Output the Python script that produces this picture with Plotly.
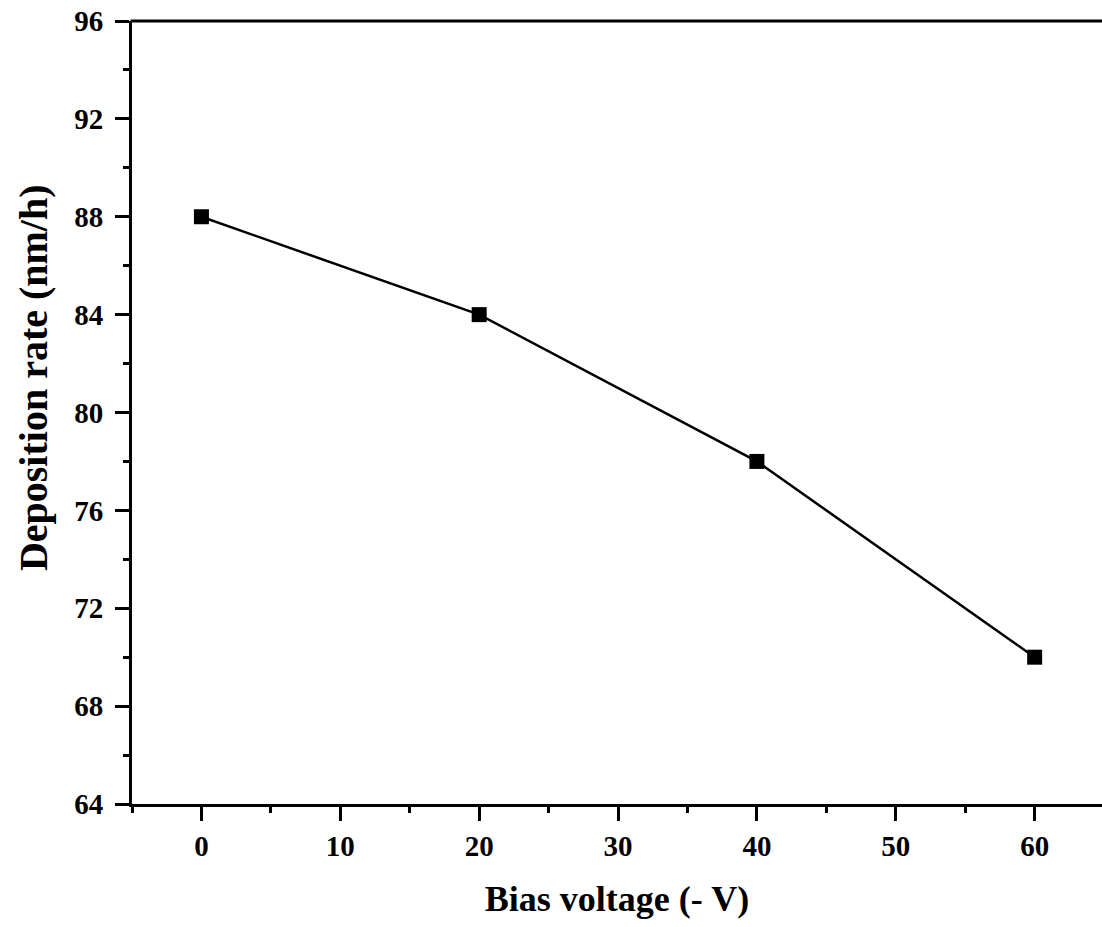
import plotly.graph_objects as go

bias_voltage = [0, 20, 40, 60]
deposition_rate = [88, 84, 78, 70]
x_ticks = [0, 10, 20, 30, 40, 50, 60]
y_ticks = [64, 68, 72, 76, 80, 84, 88, 92, 96]

FONT = "Liberation Serif"

fig = go.Figure()
fig.add_trace(go.Scatter(
    x=bias_voltage, y=deposition_rate, mode="lines+markers",
    line=dict(color="black", width=2.5),
    marker=dict(symbol="square", size=15, color="black"),
    showlegend=False, cliponaxis=False,
))

fig.update_layout(
    width=1102, height=927,
    margin=dict(l=132, r=0, t=21, b=123),
    plot_bgcolor="white", paper_bgcolor="white",
    font=dict(family=FONT, color="black"),
)
fig.update_xaxes(
    range=[-5, 64.85], tickvals=x_ticks,
    showline=True, linecolor="black", linewidth=3, mirror=False,
    ticks="outside", ticklen=14, tickwidth=3, tickcolor="black",
    minor=dict(ticks="outside", ticklen=6, tickwidth=3, tickcolor="black", dtick=5, showgrid=False),
    showgrid=False, zeroline=False, automargin=False,
    tickfont=dict(family=FONT, size=29, color="black", weight="bold"),
    title=dict(text="<b>Bias voltage (- V)</b>", font=dict(family=FONT, size=36, color="black"), standoff=26),
)
fig.update_yaxes(
    range=[64, 96], tickvals=y_ticks,
    showline=True, linecolor="black", linewidth=3, mirror=False,
    ticks="outside", ticklen=14, tickwidth=3, tickcolor="black",
    minor=dict(ticks="outside", ticklen=6, tickwidth=3, tickcolor="black", dtick=2, showgrid=False),
    showgrid=False, zeroline=False, ticklabelstandoff=6, automargin=False,
    tickfont=dict(family=FONT, size=29, color="black", weight="bold"),
)
# top frame line (no right frame line, as in the reference)
fig.add_shape(type="line", xref="paper", yref="paper", x0=-0.0015, x1=1, y0=1, y1=1,
              line=dict(color="black", width=3))
fig.add_annotation(
    text="<b>Deposition rate (nm/h)</b>", textangle=-90,
    xref="paper", yref="paper", x=-0.102, y=0.544,
    xanchor="center", yanchor="middle", showarrow=False,
    font=dict(family=FONT, size=40, color="black"),
)

fig.write_html("out.html")
